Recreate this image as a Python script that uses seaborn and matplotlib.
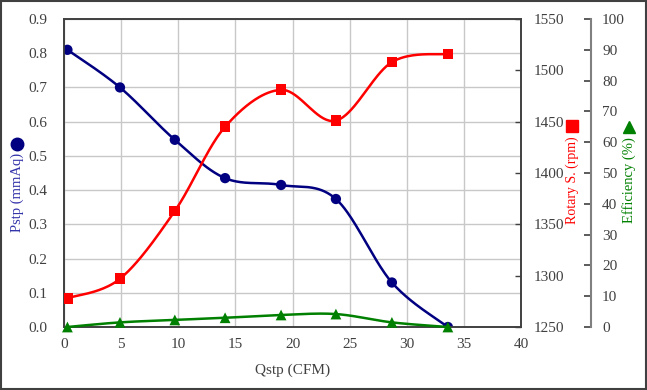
import numpy as np
import matplotlib
matplotlib.use("Agg")
import matplotlib.pyplot as plt
import seaborn as sns
from matplotlib.lines import Line2D
from matplotlib.patches import Rectangle

# -----------------------------
# Data
# -----------------------------
qstp = [0.3, 4.9, 9.7, 14.1, 19.0, 23.8, 28.7, 33.6]
pstp = [0.81, 0.70, 0.547, 0.435, 0.415, 0.374, 0.13, 0.0]
rpm = [1278, 1297, 1363, 1445, 1481, 1451, 1508, 1516]
eff = [0.0, 1.5, 2.3, 3.0, 3.9, 4.2, 1.5, 0.0]

x_ticks = [0, 5, 10, 15, 20, 25, 30, 35, 40]
p_ticks = [0.0, 0.1, 0.2, 0.3, 0.4, 0.5, 0.6, 0.7, 0.8, 0.9]
rpm_ticks = [1250, 1300, 1350, 1400, 1450, 1500, 1550]
eff_ticks = [0, 10, 20, 30, 40, 50, 60, 70, 80, 90, 100]

BLUE = "#000080"
RED = "#ff0000"
GREEN = "#008000"


# -----------------------------
# Excel-like smoothed line (Catmull-Rom through the points)
# -----------------------------
def smooth(xs, ys, n=40):
    p = np.column_stack([xs, ys]).astype(float)
    p = np.vstack([p[0], p, p[-1]])
    t = np.linspace(0, 1, n)[:, None]
    out = []
    for i in range(1, len(p) - 2):
        p0, p1, p2, p3 = p[i - 1], p[i], p[i + 1], p[i + 2]
        c1 = p1 + (p2 - p0) / 6
        c2 = p2 - (p3 - p1) / 6
        seg = ((1 - t) ** 3) * p1 + 3 * ((1 - t) ** 2) * t * c1 + 3 * (1 - t) * t ** 2 * c2 + t ** 3 * p2
        out.append(seg)
    out = np.vstack(out)
    return out[:, 0], out[:, 1]


sns.set_theme(style="white")
plt.rcParams["font.family"] = ["Liberation Serif", "DejaVu Serif"]

fig = plt.figure(figsize=(6.47, 3.90), dpi=100)
ax = fig.add_axes([64 / 647, 1 - 327 / 390, 457 / 647, 308 / 390])
ax_r = ax.twinx()
ax_e = ax.twinx()

# gridlines
ax.set_axisbelow(True)
ax.grid(True, color="#c8c8c8", lw=1)

# Pstp
sx, sy = smooth(qstp, pstp)
ax.plot(sx, sy, color=BLUE, lw=1.8, zorder=3)
sns.scatterplot(x=qstp, y=pstp, ax=ax, color=BLUE, marker="o", s=55, edgecolor="none", zorder=4)

# Rotary speed
sx, sy = smooth(qstp, rpm)
ax_r.plot(sx, sy, color=RED, lw=1.8, zorder=3)
sns.scatterplot(x=qstp, y=rpm, ax=ax_r, color=RED, marker="s", s=60, edgecolor="none", zorder=4)

# Efficiency
sx, sy = smooth(qstp, eff)
ax_e.plot(sx, sy, color=GREEN, lw=1.8, zorder=3, clip_on=False)
sns.scatterplot(x=qstp, y=eff, ax=ax_e, color=GREEN, marker="^", s=60, edgecolor="none", zorder=4, clip_on=False)

# axes limits and ticks
ax.set_xlim(0, 40)
ax.set_ylim(0, 0.9)
ax.set_xticks(x_ticks)
ax.set_yticks(p_ticks)
ax.set_yticklabels([f"{v:.1f}" for v in p_ticks])
ax_r.set_ylim(1250, 1550)
ax_r.set_yticks(rpm_ticks)
ax_e.set_ylim(0, 100)
ax_e.set_yticks(eff_ticks)

for a in (ax, ax_r, ax_e):
    a.set_xlabel("")
    a.set_ylabel("")

ax.tick_params(axis="both", direction="in", length=0, labelsize=11, colors="#404040")
ax.tick_params(axis="y", pad=12)
ax.tick_params(axis="x", pad=8)
ax_r.tick_params(axis="y", direction="in", length=4, width=1, labelsize=11, colors="#404040", pad=9)
ax_e.tick_params(axis="y", direction="in", length=5, width=1.2, labelsize=11, colors="#404040", pad=8)

for s in ax.spines.values():
    s.set_color("#404040")
    s.set_linewidth(1.2)
for s in ax_r.spines.values():
    s.set_color("#404040")
    s.set_linewidth(1.2)
for name, s in ax_e.spines.items():
    s.set_visible(name == "right")
ax_e.spines["right"].set_position(("axes", (591 - 64) / 457))
ax_e.spines["right"].set_color("#808080")
ax_e.spines["right"].set_linewidth(1.5)
ax_e.tick_params(axis="y", color="#404040")

ax.set_xlabel("Qstp (CFM)", fontsize=11, color="#404040", labelpad=9)

# axis titles with marker keys
fig.text(17 / 647, 1 - 192 / 390, "Pstp (mmAq)", rotation=90, ha="center", va="center",
         fontsize=10.5, color="#3333aa")
fig.add_artist(Line2D([17 / 647], [1 - 144 / 390], marker="o", color=BLUE, ms=9,
                      transform=fig.transFigure, linestyle=""))
fig.text(572 / 647, 1 - 180 / 390, "Rotary S. (rpm)", rotation=90, ha="center", va="center",
         fontsize=10, color=RED)
fig.add_artist(Line2D([572 / 647], [1 - 126 / 390], marker="s", color=RED, ms=9,
                      transform=fig.transFigure, linestyle=""))
fig.text(629 / 647, 1 - 180 / 390, "Efficiency (%)", rotation=90, ha="center", va="center",
         fontsize=10.5, color=GREEN)
fig.add_artist(Line2D([629 / 647], [1 - 127 / 390], marker="^", color=GREEN, ms=9,
                      transform=fig.transFigure, linestyle=""))

# outer frame
fig.add_artist(Rectangle((0.002, 0.003), 0.996, 0.994, transform=fig.transFigure,
                         fill=False, edgecolor="#404040", lw=1.5))

fig.savefig("out.png", dpi=100)
